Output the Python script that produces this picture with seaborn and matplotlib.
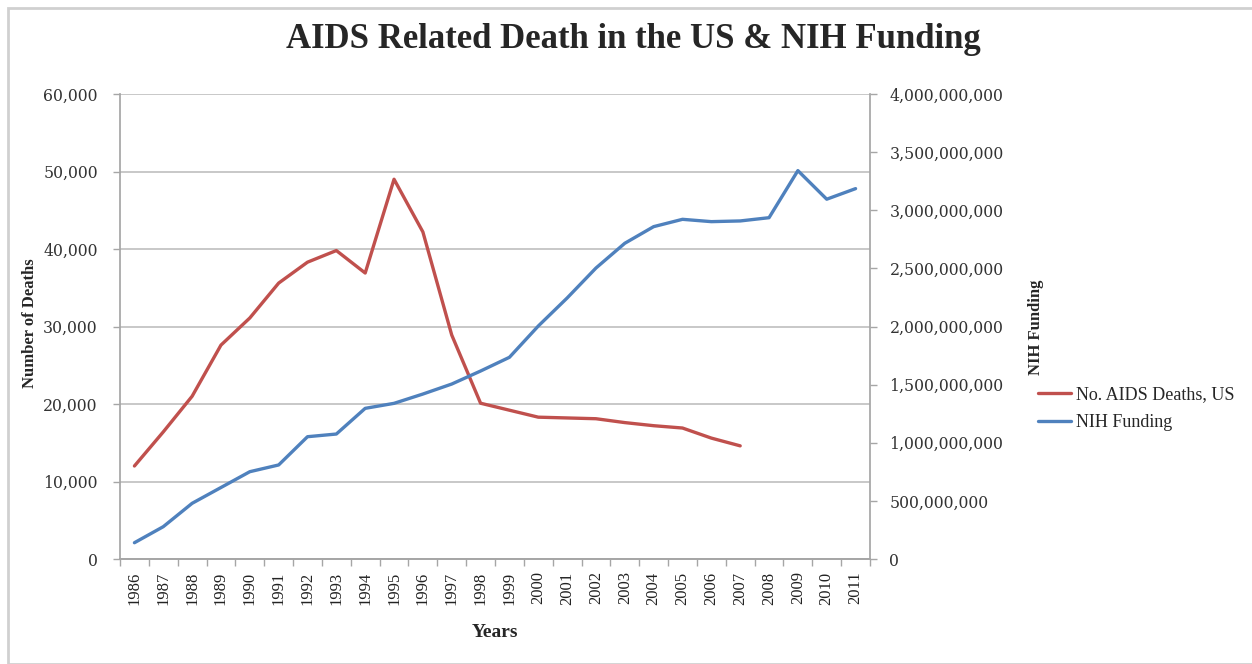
import numpy as np
import pandas as pd
import matplotlib
matplotlib.use('Agg')
import matplotlib.pyplot as plt
import matplotlib.ticker as mticker
from matplotlib.patches import Rectangle
import seaborn as sns

sns.set_theme(style='white')
plt.rcParams['font.family'] = ['Liberation Serif', 'DejaVu Serif']

# 数据
years = list(range(1986, 2012))
death_years = list(range(1986, 2008))
aids_deaths = [12000, 16400, 21000, 27600, 31100, 35600, 38300, 39800, 36900, 49000,
               42200, 28900, 20100, 19200, 18300, 18200, 18100, 17600, 17200, 16900,
               15600, 14600]
nih_funding = [140e6, 278e6, 479e6, 615e6, 751e6, 809e6, 1052e6, 1075e6, 1296e6, 1339e6,
               1419e6, 1505e6, 1617e6, 1735e6, 2004e6, 2245e6, 2503e6, 2716e6, 2859e6,
               2922e6, 2902e6, 2908e6, 2936e6, 3341e6, 3095e6, 3186e6]

df_deaths = pd.DataFrame({'year': death_years, 'deaths': aids_deaths})
df_nih = pd.DataFrame({'year': years, 'funding': nih_funding})

red = '#C0504D'
blue = '#4F81BD'
grid_c = '#BFBFBF'
tick_font = 'DejaVu Serif'

fig = plt.figure(figsize=(12.52, 6.64), dpi=100)
ax = fig.add_axes([120 / 1252, 1 - 559 / 664, 750 / 1252, 465 / 664])
ax2 = ax.twinx()

sns.lineplot(data=df_deaths, x='year', y='deaths', ax=ax, color=red, linewidth=2.4,
             label='No. AIDS Deaths, US', legend=False)
sns.lineplot(data=df_nih, x='year', y='funding', ax=ax2, color=blue, linewidth=2.4,
             label='NIH Funding', legend=False)

# 坐标轴
ax.set_xlim(1985.5, 2011.5)
ax.set_ylim(0, 60000)
ax2.set_ylim(0, 4e9)
ax.set_yticks(np.arange(0, 60001, 10000))
ax2.set_yticks(np.arange(0, 4e9 + 1, 5e8))
ax.yaxis.set_major_formatter(mticker.FuncFormatter(lambda v, p: f'{int(v):,}'))
ax2.yaxis.set_major_formatter(mticker.FuncFormatter(lambda v, p: f'{int(v):,}'))

ax.set_xticks(years)
ax.set_xticklabels([str(y) for y in years], rotation=90)
ax.set_xticks(np.arange(1985.5, 2012, 1), minor=True)
ax.tick_params(axis='x', which='major', length=0, labelsize=12, pad=9)
ax.tick_params(axis='x', which='minor', length=5, width=1, color='#A6A6A6', bottom=True)
ax.tick_params(axis='y', length=5, width=1, color='#A6A6A6', labelsize=11.3,
               left=True, pad=11)
ax2.tick_params(axis='y', length=5, width=1, color='#A6A6A6', labelsize=11.3,
                right=True, pad=9)
for t in ax.get_xticklabels():
    t.set_color('#222222')
for t in ax.get_yticklabels() + ax2.get_yticklabels():
    t.set_color('#333333')
    t.set_family(tick_font)

ax.grid(axis='y', color=grid_c, linewidth=1.2)
ax.set_axisbelow(True)
for a in (ax, ax2):
    a.spines['top'].set_visible(False)
    a.spines['left'].set_color('#A6A6A6')
    a.spines['right'].set_color('#A6A6A6')
    a.spines['bottom'].set_color('#A6A6A6')
ax2.spines['left'].set_visible(False)
ax.spines['right'].set_visible(False)

ax.set_xlabel('Years', fontsize=14, fontweight='bold', labelpad=14)
ax.set_ylabel('Number of Deaths', fontsize=12, fontweight='bold')
ax.yaxis.set_label_coords((38 - 120) / 750, (559 - 323) / 465)
ax2.set_ylabel('')
fig.text(1036 / 1252, 1 - 327 / 664, 'NIH Funding', rotation=90, fontsize=12,
         fontweight='bold', ha='center', va='center')

fig.suptitle('AIDS Related Death in the US & NIH Funding', x=0.506, y=1 - 40 / 664,
             fontsize=25, fontweight='bold', va='center')

h1, l1 = ax.get_legend_handles_labels()
h2, l2 = ax2.get_legend_handles_labels()
fig.legend(h1 + h2, l1 + l2, loc='center left', bbox_to_anchor=(1022 / 1252, 1 - 409 / 664),
           frameon=False, fontsize=13, handlelength=1.8, handletextpad=0.3,
           labelspacing=0.6)

# 外框
fig.patches.append(Rectangle((8 / 1252, 0), 1.2, 1 - 8 / 664, transform=fig.transFigure,
                             fill=False, edgecolor='#D0D0D0', linewidth=2))

fig.savefig('out.png', dpi=100)
